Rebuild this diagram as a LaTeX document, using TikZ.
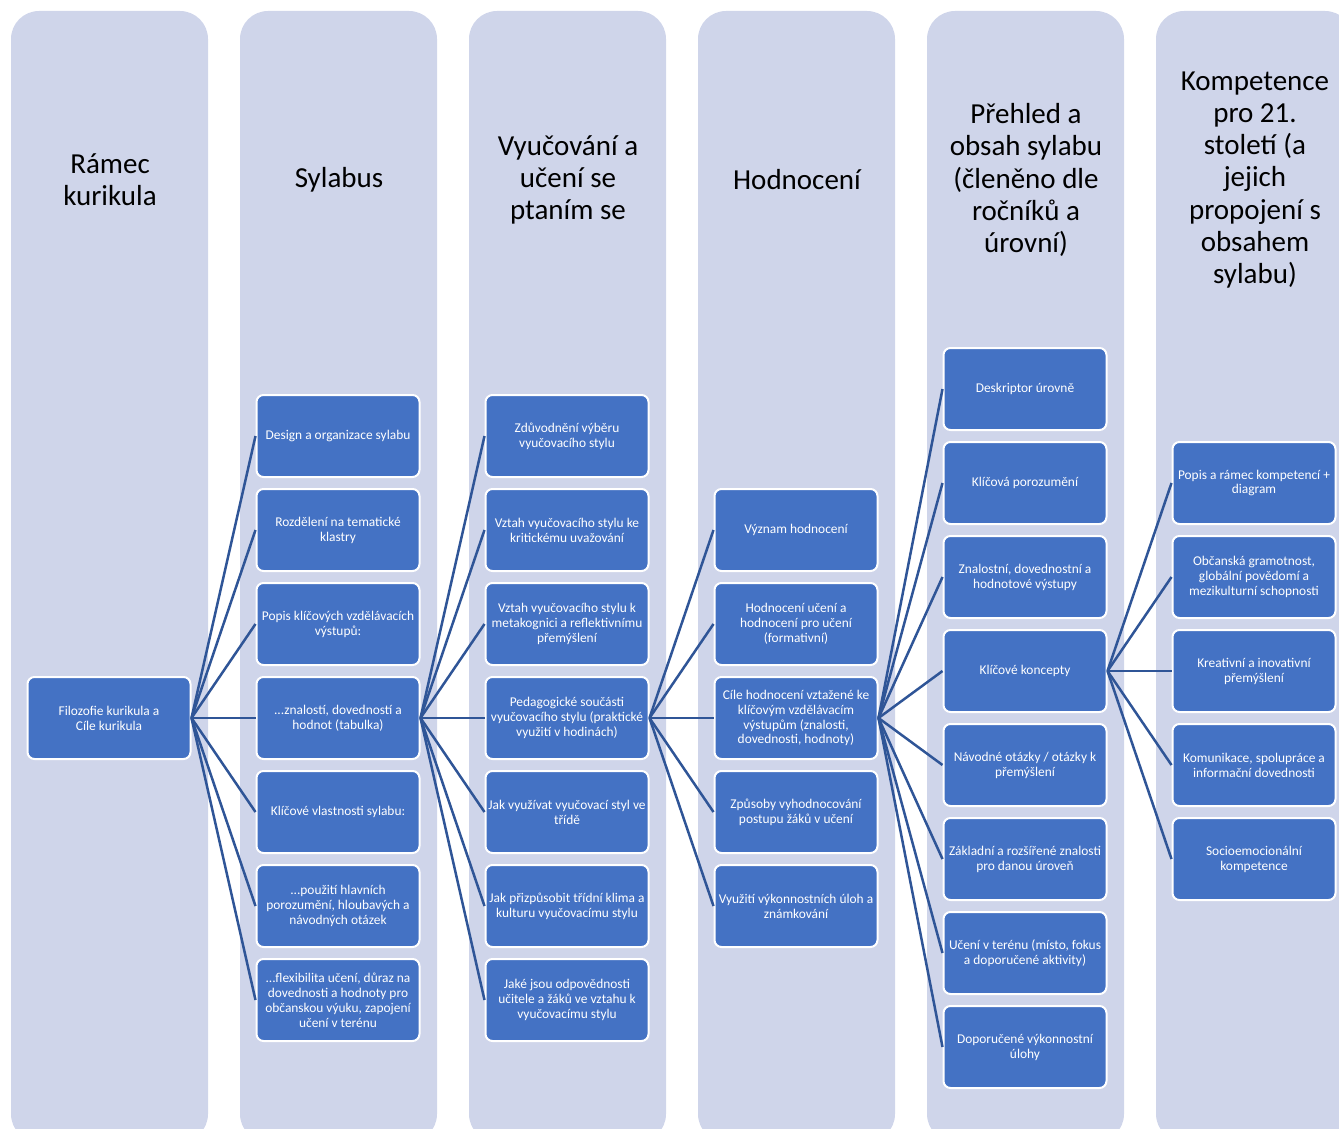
\documentclass[tikz,border=0pt]{standalone}
\usepackage{fontspec}
\setmainfont{Carlito}
\definecolor{laneC}{HTML}{CFD5EA}
\definecolor{cardC}{HTML}{4472C4}
\definecolor{linkC}{HTML}{2F5597}
\tikzset{
  lane/.style={fill=laneC, draw=none, rounded corners=28pt},
  card/.style={rectangle, rounded corners=7pt, fill=cardC, draw=white, line width=2pt,
    minimum width=163pt, minimum height=82pt, inner sep=1pt, text=white, align=center,
    font=\fontsize{13.4}{14.9}\selectfont},
  head/.style={align=center, text=black, inner sep=0pt, font=\fontsize{29}{32.2}\selectfont},
  link/.style={draw=linkC, line width=2.5pt}
}
\begin{document}
\begin{tikzpicture}[x=1pt,y=-1pt]
\useasboundingbox (0,0) rectangle (1339,1129);
\begin{scope}
  \clip (0,0) rectangle (1339,1129);
  % six lanes, running past the lower edge
  \foreach \i in {0,...,5} {
    \path[lane] (11+229*\i,11) rectangle (208+229*\i,1142);
  }
\end{scope}

% lane titles
\node[head] (h1) at (110,180) {Rámec\\kurikula};
\node[head] (h2) at (339,180) {Sylabus};
\node[head] (h3) at (568,180) {Vyučování a\\učení se\\ptaním se};
\node[head] (h4) at (797,180) {Hodnocení};
\node[head] (h5) at (1026,180) {Přehled a\\obsah sylabu\\(členěno dle\\ročníků a\\úrovní)};
\node[head] (h6) at (1255,180) {Kompetence\\pro 21.\\století (a\\jejich\\propojení s\\obsahem\\sylabu)};

% root
\node[card] (root) at (109,718) {Filozofie kurikula a\\Cíle kurikula};

% Sylabus
\node[card] (s1) at (338,436) {Design a organizace sylabu};
\node[card] (s2) at (338,530) {Rozdělení na tematické\\klastry};
\node[card] (s3) at (338,624) {Popis klíčových vzdělávacích\\výstupů:};
\node[card] (s4) at (338,718) {...znalostí, dovedností a\\hodnot (tabulka)};
\node[card] (s5) at (338,812) {Klíčové vlastnosti sylabu:};
\node[card] (s6) at (338,906) {...použití hlavních\\porozumění, hloubavých a\\návodných otázek};
\node[card] (s7) at (338,1000) {...flexibilita učení, důraz na\\dovednosti a hodnoty pro\\občanskou výuku, zapojení\\učení v terénu};

% Vyučování a učení se ptaním se
\node[card] (v1) at (567,436) {Zdůvodnění výběru\\vyučovacího stylu};
\node[card] (v2) at (567,530) {Vztah vyučovacího stylu ke\\kritickému uvažování};
\node[card] (v3) at (567,624) {Vztah vyučovacího stylu k\\metakognici a reflektivnímu\\přemýšlení};
\node[card] (v4) at (567,718) {Pedagogické součásti\\vyučovacího stylu (praktické\\využití v hodinách)};
\node[card] (v5) at (567,812) {Jak využívat vyučovací styl ve\\třídě};
\node[card] (v6) at (567,906) {Jak přizpůsobit třídní klima a\\kulturu vyučovacímu stylu};
\node[card] (v7) at (567,1000) {Jaké jsou odpovědnosti\\učitele a žáků ve vztahu k\\vyučovacímu stylu};

% Hodnocení
\node[card] (e1) at (796,530) {Význam hodnocení};
\node[card] (e2) at (796,624) {Hodnocení učení a\\hodnocení pro učení\\(formativní)};
\node[card] (e3) at (796,718) {Cíle hodnocení vztažené ke\\klíčovým vzdělávacím\\výstupům (znalosti,\\dovednosti, hodnoty)};
\node[card] (e4) at (796,812) {Způsoby vyhodnocování\\postupu žáků v učení};
\node[card] (e5) at (796,906) {Využití výkonnostních úloh a\\známkování};

% Přehled a obsah sylabu
\node[card] (p1) at (1025,389) {Deskriptor úrovně};
\node[card] (p2) at (1025,483) {Klíčová porozumění};
\node[card] (p3) at (1025,577) {Znalostní, dovednostní a\\hodnotové výstupy};
\node[card] (p4) at (1025,671) {Klíčové koncepty};
\node[card] (p5) at (1025,765) {Návodné otázky / otázky k\\přemýšlení};
\node[card] (p6) at (1025,859) {Základní a rozšířené znalosti\\pro danou úroveň};
\node[card] (p7) at (1025,953) {Učení v terénu (místo, fokus\\a doporučené aktivity)};
\node[card] (p8) at (1025,1047) {Doporučené výkonnostní\\úlohy};

% Kompetence pro 21. století
\node[card] (k1) at (1254,483) {Popis a rámec kompetencí +\\diagram};
\node[card] (k2) at (1254,577) {Občanská gramotnost,\\globální povědomí a\\mezikulturní schopnosti};
\node[card] (k3) at (1254,671) {Kreativní a inovativní\\přemýšlení};
\node[card] (k4) at (1254,765) {Komunikace, spolupráce a\\informační dovednosti};
\node[card] (k5) at (1254,859) {Socioemocionální\\kompetence};

% fan-out connectors
\foreach \c in {s1,s2,s3,s4,s5,s6,s7} \draw[link] (root.east) -- (\c.west);
\foreach \c in {v1,v2,v3,v4,v5,v6,v7} \draw[link] (s4.east) -- (\c.west);
\foreach \c in {e1,e2,e3,e4,e5} \draw[link] (v4.east) -- (\c.west);
\foreach \c in {p1,p2,p3,p4,p5,p6,p7,p8} \draw[link] (e3.east) -- (\c.west);
\foreach \c in {k1,k2,k3,k4,k5} \draw[link] (p4.east) -- (\c.west);
\end{tikzpicture}
\end{document}
